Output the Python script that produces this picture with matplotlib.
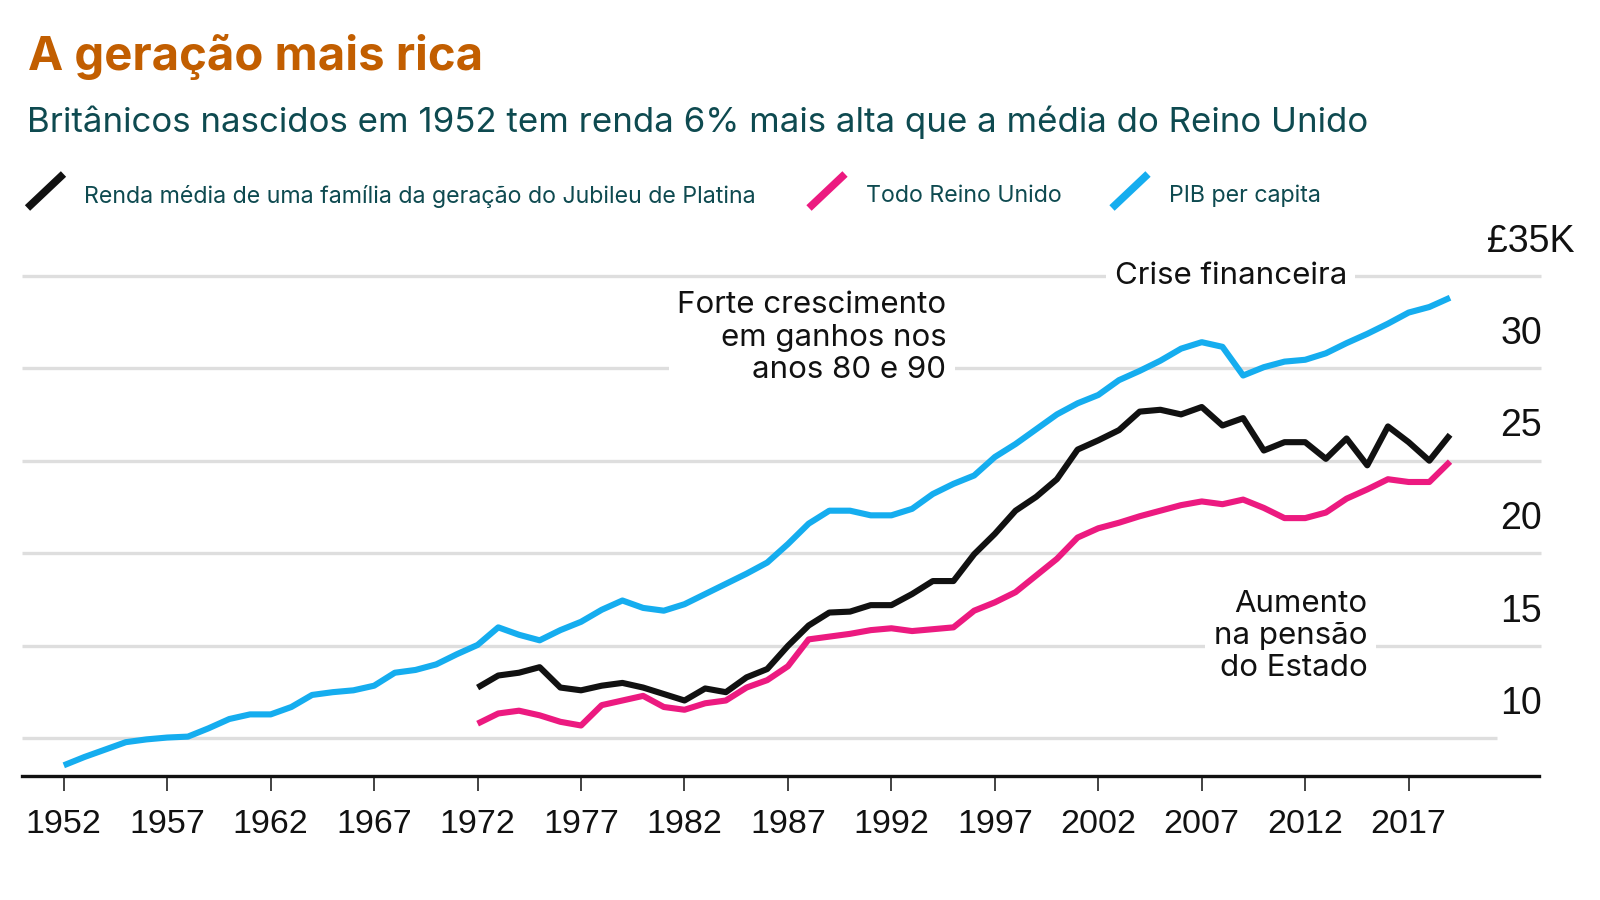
import matplotlib
matplotlib.use("Agg")
import matplotlib.pyplot as plt
from matplotlib.lines import Line2D
import numpy as np

# data (thousand GBP)
years_gdp = list(range(1952, 2020))
gdp_per_capita = [8.55, 9.0, 9.4, 9.8, 9.95, 10.05, 10.1, 10.55, 11.05, 11.3,
                  11.3, 11.7, 12.35, 12.5, 12.6, 12.85, 13.55, 13.7, 14.0, 14.55,
                  15.05, 16.0, 15.6, 15.3, 15.85, 16.3, 16.95, 17.45, 17.05, 16.9,
                  17.25, 17.8, 18.35, 18.9, 19.5, 20.5, 21.6, 22.3, 22.3, 22.05,
                  22.05, 22.4, 23.2, 23.75, 24.2, 25.2, 25.9, 26.7, 27.5, 28.1,
                  28.55, 29.35, 29.85, 30.4, 31.05, 31.4, 31.15, 29.6, 30.05, 30.35,
                  30.45, 30.8, 31.35, 31.85, 32.4, 33.0, 33.3, 33.8]

years_inc = list(range(1972, 2020))
jubilee_income = [12.75, 13.4, 13.55, 13.85, 12.75, 12.6, 12.85, 13.0, 12.75, 12.4,
                  12.05, 12.7, 12.5, 13.3, 13.75, 15.0, 16.1, 16.8, 16.85, 17.2,
                  17.2, 17.8, 18.5, 18.5, 19.95, 21.05, 22.3, 23.05, 24.0, 25.6,
                  26.1, 26.65, 27.65, 27.75, 27.5, 27.9, 26.9, 27.3, 25.55, 26.0,
                  26.0, 25.1, 26.2, 24.75, 26.85, 26.0, 25.0, 26.4]
uk_income = [10.8, 11.35, 11.5, 11.25, 10.9, 10.7, 11.8, 12.05, 12.3, 11.7,
             11.55, 11.9, 12.05, 12.75, 13.15, 13.9, 15.35, 15.5, 15.65, 15.85,
             15.95, 15.8, 15.9, 16.0, 16.9, 17.35, 17.9, 18.8, 19.7, 20.85,
             21.35, 21.65, 22.0, 22.3, 22.6, 22.8, 22.65, 22.9, 22.45, 21.9,
             21.9, 22.2, 22.95, 23.45, 24.0, 23.85, 23.85, 24.95]

grid_vals = [10, 15, 20, 25, 30, 35]
ylabels = ["10", "15", "20", "25", "30", "£35K"]
xticks = list(range(1952, 2018, 5))

BLACK = "#111111"
PINK = "#EC1A80"
BLUE = "#15ADEF"
TEAL = "#0E4A50"
ORANGE = "#C25E00"
W, H = 1600, 900

plt.rcParams['font.family'] = ['Inter', 'DejaVu Sans']

fig = plt.figure(figsize=(16, 9), dpi=100)
fig.patch.set_facecolor("white")

def fx(px):
    return px / W

def fy(py):
    return 1 - py / H

ax = fig.add_axes([fx(22.4), fy(775.5), fx(1539 - 22.4), (775.5 - 257) / H])
ax.set_xlim(1950, 2023.3)
ax.set_ylim(8, 36)
for s in ["top", "right", "left"]:
    ax.spines[s].set_visible(False)
ax.spines["bottom"].set_linewidth(2.4)
ax.spines["bottom"].set_color("#111111")
ax.set_yticks([])
ax.set_xticks(xticks)
ax.set_xticklabels([str(x) for x in xticks], family="Liberation Sans",
                   fontsize=24.5, color="#111111")
ax.tick_params(axis="x", length=11, width=1.2, color="#222222", pad=13)

# grid lines
for v in grid_vals:
    right = 2021.25 if v == 10 else 2023.4
    ax.plot([1950, right], [v, v], color="#DEDEDE", lw=2.4, zorder=1,
            solid_capstyle="butt", clip_on=False)

# value labels
for v, lab in zip(grid_vals, ylabels):
    if lab.startswith("£"):
        ax.text(2025.0, v + 1.8, lab, ha="right", va="center", fontsize=27,
                family="Liberation Sans", color="#111111", clip_on=False)
    else:
        ax.text(2023.45, v + 1.85, lab, ha="right", va="center", fontsize=27,
                family="Liberation Sans", color="#111111", clip_on=False)

lw = 4.4
ax.plot(years_gdp, gdp_per_capita, color=BLUE, lw=lw, zorder=4,
        solid_joinstyle="round", solid_capstyle="butt")
ax.plot(years_inc, uk_income, color=PINK, lw=lw, zorder=4,
        solid_joinstyle="round", solid_capstyle="butt")
ax.plot(years_inc, jubilee_income, color=BLACK, lw=lw, zorder=5,
        solid_joinstyle="round", solid_capstyle="butt")

# annotations
box = dict(facecolor="white", edgecolor="none", pad=6)
ax.text(2008.4, 35.0, "Crise financeira", ha="center", va="center",
        fontsize=22.5, color="#111111", bbox=box, zorder=2)
ax.text(1994.65, 31.64, "Forte crescimento\nem ganhos nos\nanos 80 e 90",
        ha="right", va="center", fontsize=22.5, color="#111111",
        linespacing=1.2, bbox=box, zorder=2)
ax.text(2015.0, 15.53, "Aumento\nna pensão\ndo Estado", ha="right",
        va="center", fontsize=22.5, color="#111111", linespacing=1.2,
        bbox=box, zorder=2)

# title block
fig.text(fx(28), fy(57), "A geração mais rica", ha="left", va="center",
         fontsize=34, fontweight="bold", color=ORANGE)
fig.text(fx(27), fy(122), "Britânicos nascidos em 1952 tem renda 6% mais alta "
         "que a média do Reino Unido", ha="left", va="center", fontsize=25.1,
         color=TEAL)

# legend
legend_items = [(27.5, "Renda média de uma família da geração do Jubileu de Platina", BLACK),
                (809, "Todo Reino Unido", PINK),
                (1112, "PIB per capita", BLUE)]
for x0, label, col in legend_items:
    fig.add_artist(Line2D([fx(x0), fx(x0 + 36)], [fy(208), fy(174)],
                          color=col, lw=5.5, solid_capstyle="butt"))
    fig.text(fx(x0 + 57), fy(196), label, ha="left", va="center",
             fontsize=16.7, color=TEAL)

fig.savefig("out.png", dpi=100)
